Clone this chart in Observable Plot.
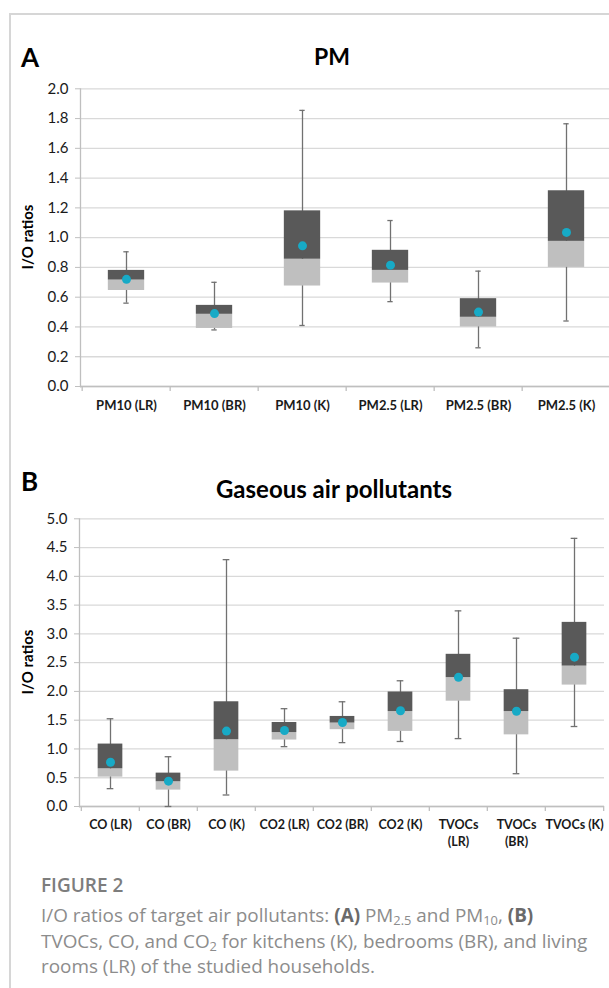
<!DOCTYPE html>
<html>
<head>
<meta charset="utf-8">
<script src="https://cdn.jsdelivr.net/npm/d3@7"></script>
<script src="https://cdn.jsdelivr.net/npm/@observablehq/plot@0.6"></script>
<style>
  html, body { margin: 0; padding: 0; background: #fff; overflow: hidden; }
  #page { position: relative; width: 609px; height: 988px; overflow: hidden; background: #fff; }
  .abs { position: absolute; white-space: nowrap; }
  .chart { position: absolute; left: 0; }
  .letter { font-family: Lato, sans-serif; font-weight: bold; font-size: 26px; line-height: 26px; color: #000; }
  .title { font-family: Lato, sans-serif; font-weight: bold; font-size: 23px; line-height: 23px; color: #000; transform: translateX(-50%); }
  .title2 { font-size: 24px; line-height: 24px; }
  .ylab { font-family: Lato, sans-serif; font-weight: bold; font-size: 15px; line-height: 15px; color: #000; transform: translate(-50%, -50%) rotate(-90deg); }
  .figno { font-family: "Open Sans", sans-serif; font-weight: 600; font-size: 19px; line-height: 20px; color: #7d7d7d; }
  .capline { font-family: "Open Sans", sans-serif; font-weight: 400; font-size: 18.9px; line-height: 20px; color: #8c8c8c; }
  .capline b { color: #6a6a6a; font-weight: 700; }
  .capline sub { font-size: 0.68em; line-height: 0; vertical-align: -0.25em; }
</style>
</head>
<body>
<div id="page">
  <div class="abs" style="left:9px; top:13px; width:600px; height:975px; border-top:2px solid #d6d6d6; border-left:2px solid #d6d6d6;"></div>
  <div id="chartA" class="chart" style="top:0px;"></div>
  <div id="chartB" class="chart" style="top:430px;"></div>
  <div class="abs letter" style="left:21px; top:44px;">A</div>
  <div class="abs title" style="left:332px; top:45px;">PM</div>
  <div class="abs ylab" style="left:27px; top:237px;">I/O ratios</div>
  <div class="abs letter" style="left:21px; top:468px;">B</div>
  <div class="abs title title2" style="left:334px; top:477px;">Gaseous air pollutants</div>
  <div class="abs ylab" style="left:27px; top:662px;">I/O ratios</div>
  <div class="abs figno" style="left:41px; top:875px;">FIGURE 2</div>
  <div class="abs capline" style="left:41px; top:905px;">I/O ratios of target air pollutants: <b>(A)</b> PM<sub>2.5</sub> and PM<sub>10</sub>, <b>(B)</b></div>
  <div class="abs capline" style="left:41px; top:930.5px;">TVOCs, CO, and CO<sub>2</sub> for kitchens (K), bedrooms (BR), and living</div>
  <div class="abs capline" style="left:41px; top:956px;">rooms (LR) of the studied households.</div>
</div>
<script>
// ---------- Panel A: PM ----------
const pmCategories = ["PM10 (LR)", "PM10 (BR)", "PM10 (K)", "PM2.5 (LR)", "PM2.5 (BR)", "PM2.5 (K)"];
const pmLabels     = ["PM10 (LR)", "PM10 (BR)", "PM10 (K)", "PM2.5 (LR)", "PM2.5 (BR)", "PM2.5 (K)"];
const pmMin    = [0.56, 0.38, 0.41, 0.57, 0.26, 0.44];
const pmQ1     = [0.645, 0.39, 0.675, 0.695, 0.40, 0.80];
const pmMedian = [0.715, 0.485, 0.855, 0.78, 0.465, 0.975];
const pmQ3     = [0.78, 0.545, 1.18, 0.915, 0.59, 1.315];
const pmMax    = [0.905, 0.70, 1.855, 1.115, 0.775, 1.765];
const pmMean   = [0.72, 0.49, 0.945, 0.815, 0.50, 1.035];
const pmTicks  = [0, 0.2, 0.4, 0.6, 0.8, 1.0, 1.2, 1.4, 1.6, 1.8, 2.0];

// ---------- Panel B: Gaseous air pollutants ----------
const gasCategories = ["CO (LR)", "CO (BR)", "CO (K)", "CO2 (LR)", "CO2 (BR)", "CO2 (K)", "TVOCs (LR)", "TVOCs (BR)", "TVOCs (K)"];
const gasLabels     = ["CO (LR)", "CO (BR)", "CO (K)", "CO2 (LR)", "CO2 (BR)", "CO2 (K)", "TVOCs\n(LR)", "TVOCs\n(BR)", "TVOCs (K)"];
const gasMin    = [0.31, 0.0, 0.20, 1.04, 1.11, 1.13, 1.18, 0.57, 1.39];
const gasQ1     = [0.51, 0.285, 0.615, 1.155, 1.335, 1.305, 1.83, 1.245, 2.11];
const gasMedian = [0.655, 0.43, 1.16, 1.285, 1.45, 1.65, 2.24, 1.65, 2.44];
const gasQ3     = [1.085, 0.58, 1.82, 1.46, 1.565, 1.99, 2.645, 2.03, 3.20];
const gasMax    = [1.525, 0.865, 4.29, 1.70, 1.82, 2.185, 3.40, 2.925, 4.66];
const gasMean   = [0.77, 0.44, 1.31, 1.32, 1.46, 1.665, 2.245, 1.655, 2.595];
const gasTicks  = [0, 0.5, 1.0, 1.5, 2.0, 2.5, 3.0, 3.5, 4.0, 4.5, 5.0];

function boxChart(o) {
  const rows = o.cats.map((c, i) => ({
    cat: c, label: o.labels[i], min: o.mins[i], q1: o.q1s[i], med: o.meds[i],
    q3: o.q3s[i], max: o.maxs[i], mean: o.means[i]
  }));
  const labelOf = new Map(rows.map(r => [r.cat, r.label]));
  const bw = (o.width - o.marginLeft - o.marginRight) / o.cats.length;
  const boxInset = (bw - o.boxW) / 2;
  const capInset = (bw - o.capW) / 2;
  const yMax = o.ticks[o.ticks.length - 1];
  const pxPerUnit = (o.height - o.marginTop - o.marginBottom) / yMax;
  const tickDown = -5 / pxPerUnit;
  const whisker = "#717171";
  return Plot.plot({
    width: o.width, height: o.height,
    marginTop: o.marginTop, marginBottom: o.marginBottom,
    marginLeft: o.marginLeft, marginRight: o.marginRight,
    style: { maxWidth: "none", background: "transparent", overflow: "visible", fontFamily: "Lato, sans-serif", color: "#1a1a1a" },
    x: { type: "band", domain: o.cats, padding: 0 },
    y: { domain: [0, yMax] },
    marks: [
      Plot.gridY(o.ticks, { stroke: "#d9d9d9", strokeOpacity: 1, strokeWidth: 1.3 }),
      Plot.axisY({ ticks: o.ticks, tickFormat: d3.format(".1f"), tickSize: 5, tickPadding: 7, fontSize: 15, stroke: "#bfbfbf", label: null }),
      Plot.axisX({ tickSize: 0, tickPadding: 11, fontSize: o.xFont, fontWeight: "bold", lineHeight: 1.35, tickFormat: d => labelOf.get(d), label: null }),
      Plot.frame({ anchor: "left", stroke: "#bfbfbf", strokeWidth: 1.3 }),
      Plot.ruleY([0], { stroke: "#bfbfbf", strokeWidth: 1.3 }),
      Plot.ruleX(o.cats, { x: d => d, dx: -bw / 2, y1: 0, y2: tickDown, stroke: "#bfbfbf", strokeWidth: 1.3 }),
      Plot.ruleX([o.cats[o.cats.length - 1]], { x: d => d, dx: bw / 2, y1: 0, y2: tickDown, stroke: "#bfbfbf", strokeWidth: 1.3 }),
      Plot.ruleX(rows, { x: "cat", y1: "min", y2: "max", stroke: whisker, strokeWidth: 1.3 }),
      Plot.tickY(rows, { x: "cat", y: "max", insetLeft: capInset, insetRight: capInset, stroke: whisker, strokeWidth: 1.3 }),
      Plot.tickY(rows, { x: "cat", y: "min", insetLeft: capInset, insetRight: capInset, stroke: whisker, strokeWidth: 1.3 }),
      Plot.barY(rows, { x: "cat", y1: "q1", y2: "med", fill: "#bfbfbf", insetLeft: boxInset, insetRight: boxInset }),
      Plot.barY(rows, { x: "cat", y1: "med", y2: "q3", fill: "#595959", insetLeft: boxInset, insetRight: boxInset }),
      Plot.dot(rows, { x: "cat", y: "mean", r: 4.5, fill: "#17aac6" })
    ]
  });
}

document.getElementById("chartA").appendChild(boxChart({
  cats: pmCategories, labels: pmLabels, mins: pmMin, q1s: pmQ1, meds: pmMedian,
  q3s: pmQ3, maxs: pmMax, means: pmMean, ticks: pmTicks,
  width: 612, height: 430, marginTop: 88.3, marginBottom: 44, marginLeft: 80, marginRight: 0,
  boxW: 37, capW: 6, xFont: 13
}));

document.getElementById("chartB").appendChild(boxChart({
  cats: gasCategories, labels: gasLabels, mins: gasMin, q1s: gasQ1, meds: gasMedian,
  q3s: gasQ3, maxs: gasMax, means: gasMean, ticks: gasTicks,
  width: 609, height: 430, marginTop: 88.3, marginBottom: 54, marginLeft: 79, marginRight: 5,
  boxW: 25, capW: 7, xFont: 12.5
}));
</script>
</body>
</html>
